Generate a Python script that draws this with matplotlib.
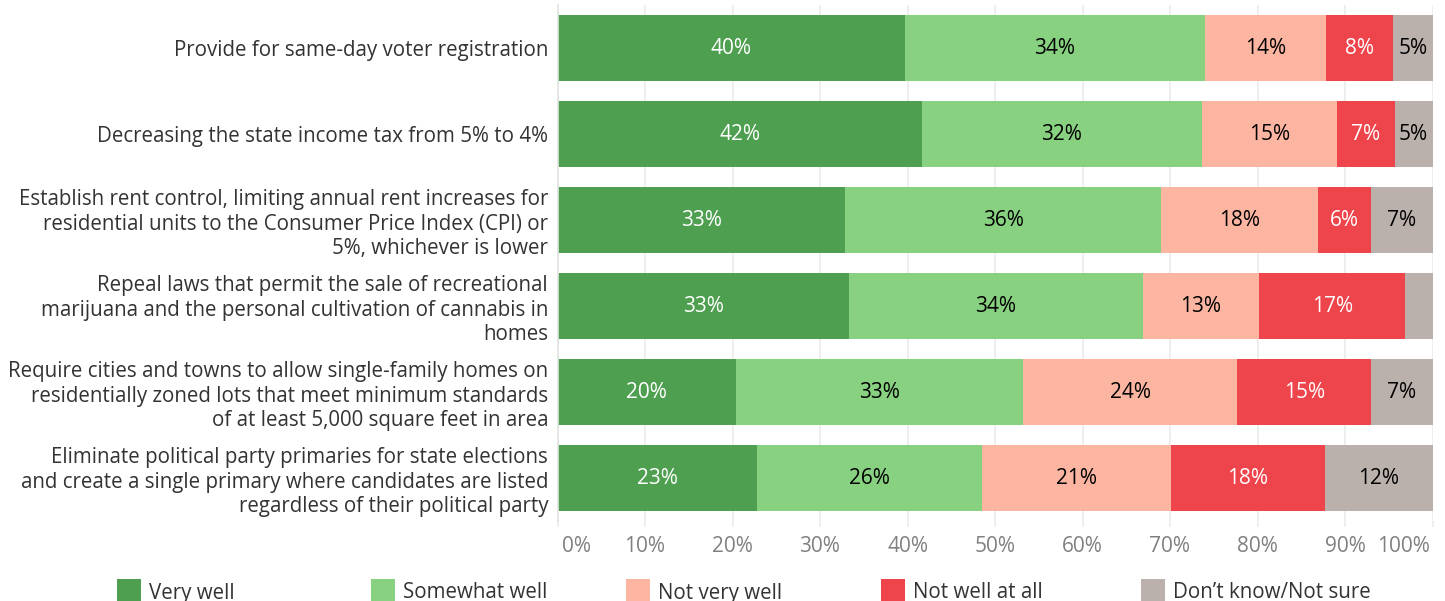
import matplotlib
matplotlib.use("Agg")
import matplotlib.pyplot as plt
from matplotlib.patches import Rectangle
from matplotlib.transforms import ScaledTranslation

plt.rcParams['font.family'] = ['Open Sans', 'DejaVu Sans']

# data (percent of respondents)
questions = [
    "Provide for same-day voter registration",
    "Decreasing the state income tax from 5% to 4%",
    "Establish rent control, limiting annual rent increases for\n"
    "residential units to the Consumer Price Index (CPI) or\n"
    "5%, whichever is lower",
    "Repeal laws that permit the sale of recreational\n"
    "marijuana and the personal cultivation of cannabis in\n"
    "homes",
    "Require cities and towns to allow single-family homes on\n"
    "residentially zoned lots that meet minimum standards\n"
    "of at least 5,000 square feet in area",
    "Eliminate political party primaries for state elections\n"
    "and create a single primary where candidates are listed\n"
    "regardless of their political party",
]
categories = ["Very well", "Somewhat well", "Not very well",
              "Not well at all", "Don\u2019t know/Not sure"]

very_well = [39.7, 41.7, 32.9, 33.3, 20.4, 22.8]
somewhat_well = [34.3, 31.9, 36.1, 33.6, 32.8, 25.7]
not_very_well = [13.8, 15.5, 17.9, 13.3, 24.5, 21.6]
not_well_at_all = [7.7, 6.6, 6.1, 16.7, 15.3, 17.6]
dont_know = [4.5, 4.3, 7.0, 3.1, 7.0, 12.3]

# printed labels as shown on the bars
lab_very_well = ["40%", "42%", "33%", "33%", "20%", "23%"]
lab_somewhat_well = ["34%", "32%", "36%", "34%", "33%", "26%"]
lab_not_very_well = ["14%", "15%", "18%", "13%", "24%", "21%"]
lab_not_well_at_all = ["8%", "7%", "6%", "17%", "15%", "18%"]
lab_dont_know = ["5%", "5%", "7%", "", "7%", "12%"]

xticks = list(range(0, 101, 10))
xtick_labels = [f"{t}%" for t in xticks]

colors = ["#4e9f50", "#87d180", "#fcb5a1", "#ee444b", "#bab0ac"]
text_colors = ["white", "black", "black", "white", "black"]

series = [very_well, somewhat_well, not_very_well, not_well_at_all, dont_know]
series_labels = [lab_very_well, lab_somewhat_well, lab_not_very_well,
                 lab_not_well_at_all, lab_dont_know]

FS = 14.8

# figure
W, H = 1445, 601
fig = plt.figure(figsize=(W / 100, H / 100), dpi=100)
ax = fig.add_axes([557.5 / W, 1 - 521 / H, 875 / W, 516 / H])

ypos = list(range(len(questions)))
left = [0.0] * len(questions)
for vals, labs, col, tcol in zip(series, series_labels, colors, text_colors):
    bars = ax.barh(ypos, vals, left=left, height=0.756, color=col,
                   edgecolor='none', zorder=2)
    ax.bar_label(bars, labels=labs, label_type='center', color=tcol,
                 fontsize=15)
    left = [l + v for l, v in zip(left, vals)]

ax.set_xlim(0, 100)
ax.set_ylim(len(questions) - 0.5, -0.5)

ax.set_yticks(ypos)
ax.set_yticklabels(questions, fontsize=FS, color='#333333',
                   linespacing=1.2)
ax.tick_params(axis='y', length=0, pad=6.8)

ax.set_xticks(xticks)
ax.set_xticklabels(xtick_labels, fontsize=15, color='#808080')
ax.tick_params(axis='x', length=4, width=1.2, color='#ebebeb', pad=6.5)
tl = ax.get_xticklabels()
tl[0].set_horizontalalignment('left')
tl[0].set_transform(tl[0].get_transform()
                    + ScaledTranslation(0.045, 0, fig.dpi_scale_trans))
tl[-1].set_horizontalalignment('right')
tl[-1].set_transform(tl[-1].get_transform()
                     + ScaledTranslation(-0.025, 0, fig.dpi_scale_trans))

ax.grid(axis='x', color='#ebebeb', lw=1.2, zorder=0)
ax.set_axisbelow(True)
for side in ['top', 'right', 'bottom']:
    ax.spines[side].set_visible(False)
ax.spines['left'].set_color('#e3e3e3')
ax.spines['left'].set_linewidth(1.2)

# legend along the bottom edge
legend_x = [117, 371, 626, 881, 1141]
for x, col, name in zip(legend_x, colors, categories):
    fig.add_artist(Rectangle((x / W, 1 - 603 / H), 24 / W, 24 / H,
                             transform=fig.transFigure, color=col,
                             lw=0))
    fig.text((x + 32) / W, 1 - 593 / H, name, fontsize=FS,
             color='#333333', va='center', ha='left')

fig.savefig("out.png", dpi=100)
